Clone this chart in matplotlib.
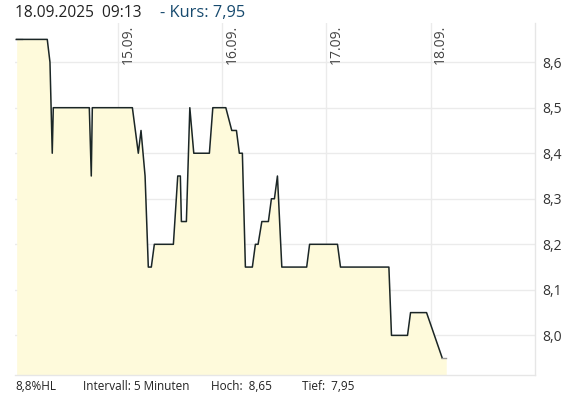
import matplotlib
matplotlib.use("Agg")
import matplotlib.pyplot as plt
import matplotlib.transforms as mtransforms

plt.rcParams['font.family'] = ['Open Sans', 'DejaVu Sans']

# time in trading-day units relative to 15.09. (12.09. = -1 .. 0)
times = [-0.977, -0.683, -0.657, -0.635, -0.625, -0.279, -0.260, -0.250,
         0.135, 0.192, 0.218, 0.257, 0.288, 0.317, 0.346, 0.529, 0.571,
         0.596, 0.606, 0.654, 0.687, 0.725, 0.875, 0.908, 1.033, 1.090,
         1.135, 1.163, 1.192, 1.221, 1.288, 1.317, 1.343, 1.379, 1.442,
         1.471, 1.500, 1.529, 1.571, 1.810, 1.838, 2.106, 2.135, 2.600,
         2.625, 2.779, 2.808, 2.962, 3.113, 3.151]
prices = [8.65, 8.65, 8.60, 8.40, 8.50, 8.50, 8.35, 8.50,
          8.50, 8.40, 8.45, 8.35, 8.15, 8.15, 8.20, 8.20, 8.35,
          8.35, 8.25, 8.25, 8.50, 8.40, 8.40, 8.50, 8.50, 8.45,
          8.45, 8.40, 8.40, 8.15, 8.15, 8.20, 8.20, 8.25, 8.25,
          8.30, 8.30, 8.35, 8.15, 8.15, 8.20, 8.20, 8.15, 8.15,
          8.00, 8.00, 8.05, 8.05, 7.95, 7.95]

day_positions = [0, 1, 2, 3]
day_labels = ["15.09.", "16.09.", "17.09.", "18.09."]
y_ticks = [8.0, 8.1, 8.2, 8.3, 8.4, 8.5, 8.6]
y_tick_labels = ["8,0", "8,1", "8,2", "8,3", "8,4", "8,5", "8,6"]

title_left = "18.09.2025  09:13"
title_right = "- Kurs: 7,95"
footer = [("8,8%HL", 15), ("Intervall: 5 Minuten", 83), ("Hoch:  8,65", 211), ("Tief:  7,95", 302)]

W, H = 570, 398
fig = plt.figure(figsize=(W / 100, H / 100), dpi=100)
ax = fig.add_axes([15 / W, (H - 375) / H, (535.3 - 15) / W, (375 - 23) / H])

ymin = 7.913
ax.set_xlim(-0.993, 4.007)
ax.set_ylim(ymin, 8.686)

ax.fill_between(times, prices, ymin, color="#fefadb", linewidth=0, zorder=1)
# start / end markers
ax.plot([times[0] - 0.025, times[0] + 0.05], [prices[0]] * 2, color="#999999", lw=1, zorder=2)
ax.plot(times[:-1], prices[:-1], color="#1b2626", lw=1.1, zorder=3)
ax.plot(times[-2:], prices[-2:], color="#999999", lw=1, zorder=3)

ax.set_xticks(day_positions)
ax.set_xticklabels([])
ax.set_yticks(y_ticks)
ax.set_yticklabels(y_tick_labels)
ax.yaxis.tick_right()
ax.tick_params(axis='both', length=0)
ax.tick_params(axis='y', pad=5, labelsize=10, labelcolor="#333333")
ax.grid(True, color="#ebebeb", lw=1)
ax.set_axisbelow(True)

for s in ["left", "top"]:
    ax.spines[s].set_visible(False)
for s in ["right", "bottom"]:
    ax.spines[s].set_color("#e6e6e6")
    ax.spines[s].set_linewidth(1)

trans = mtransforms.blended_transform_factory(ax.transData, ax.transAxes)
offset = mtransforms.ScaledTranslation(2 / 100, -2 / 100, fig.dpi_scale_trans)
for d, lab in zip(day_positions, day_labels):
    ax.text(d, 1.0, lab, rotation=90, ha="left", va="top", fontsize=10,
            color="#444444", transform=trans + offset)

fig.text(15 / W, 1 - 13 / H, title_left, ha="left", va="center", fontsize=11.2, color="#222222")
fig.text(159.5 / W, 1 - 13 / H, title_right, ha="left", va="center", fontsize=11.8, color="#174a6e")

for txt, xpx in footer:
    fig.text(xpx / W, 1 - 386 / H, txt, ha="left", va="center", fontsize=8.5, color="#222222")

fig.savefig("out.png", dpi=100)
